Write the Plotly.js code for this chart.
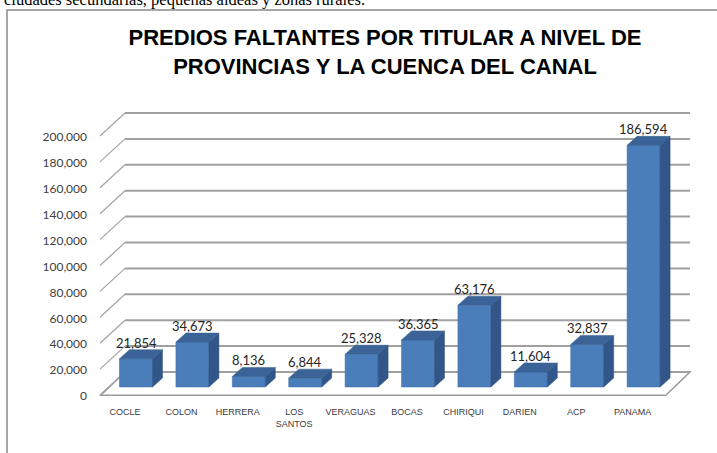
<!DOCTYPE html>
<html>
<head>
<meta charset="utf-8">
<script src="https://cdn.plot.ly/plotly-3.0.1.min.js"></script>
<style>
  html, body { margin: 0; padding: 0; background: #fff; }
  #chart { width: 717px; height: 453px; }
</style>
</head>
<body>
<div id="chart"></div>
<script>
// ---- data ----
const categories = ["COCLE", "COLON", "HERRERA", "LOS<br>SANTOS", "VERAGUAS", "BOCAS", "CHIRIQUI", "DARIEN", "ACP", "PANAMA"];
const values = [21854, 34673, 8136, 6844, 25328, 36365, 63176, 11604, 32837, 186594];
const valueLabels = ["21,854", "34,673", "8,136", "6,844", "25,328", "36,365", "63,176", "11,604", "32,837", "186,594"];
const yTicks = [0, 20000, 40000, 60000, 80000, 100000, 120000, 140000, 160000, 180000, 200000];
const titleText = "PREDIOS FALTANTES POR TITULAR A NIVEL DE<br>PROVINCIAS Y LA CUENCA DEL CANAL";
const topText = "ciudades secundarias, pequeñas aldeas y zonas rurales.";

// ---- geometry (layout) ----
const W = 717, H = 453;
const M = {l: 100, r: 27, t: 100, b: 57};
const plotW = W - M.l - M.r;   // 590
const plotH = H - M.t - M.b;   // 296
const pxPerUnitY = 259 / 200000;
const yLow = -24 / pxPerUnitY;
const yHigh = yLow + plotH / pxPerUnitY;
const y2Low = -9 / pxPerUnitY;
const y2High = y2Low + plotH / pxPerUnitY;
const pxPerCat = 56.4;
const xLow = -36 / pxPerCat;
const xHigh = xLow + plotW / pxPerCat;
const barW = 33 / pxPerCat;
const depthX = 10 / pxPerCat;
const depthY = 9 / pxPerUnitY;
const wallX = 25 / plotW;

const idx = categories.map((_, i) => i);

// side and top faces of the bars, computed from the data
const sideX = [], sideY = [], topX = [], topY = [];
idx.forEach(i => {
  const v = values[i];
  const r = i + barW / 2, l = i - barW / 2;
  sideX.push(r, r + depthX, r + depthX, r, r, null);
  sideY.push(0, depthY, v + depthY, v, 0, null);
  topX.push(l, r, r + depthX, l + depthX, l, null);
  topY.push(v, v, v + depthY, v + depthY, v, null);
});

const traces = [
  {
    type: "bar", x: idx, y: values, width: barW, xaxis: "x", yaxis: "y2",
    marker: {color: "#4a7ebb", line: {color: "#3f6fa8", width: 0.5}},
    hoverinfo: "skip"
  },
  {
    type: "scatter", mode: "lines", x: sideX, y: sideY, xaxis: "x", yaxis: "y2",
    fill: "toself", fillcolor: "#32568a", line: {color: "#2e5081", width: 0.5},
    hoverinfo: "skip"
  },
  {
    type: "scatter", mode: "lines", x: topX, y: topY, xaxis: "x", yaxis: "y2",
    fill: "toself", fillcolor: "#3b6397", line: {color: "#37608f", width: 0.5},
    hoverinfo: "skip"
  }
];

const shapes = [];
// floor
shapes.push({
  type: "path", xref: "paper", yref: "y", layer: "below",
  path: `M 0,${yLow} L ${(665 - M.l) / plotW},${yLow} L 1,0 L ${wallX},0 Z`,
  fillcolor: "#ffffff", line: {color: "#9a9a9a", width: 1.5}
});
shapes.push({
  type: "line", xref: "paper", yref: "y", layer: "below",
  x0: 0, x1: (665 - M.l) / plotW, y0: yLow, y1: yLow,
  line: {color: "#9a9a9a", width: 3}
});
// gridlines on back wall + diagonals on side wall
yTicks.forEach(t => {
  shapes.push({
    type: "line", xref: "paper", yref: "y", layer: "below",
    x0: wallX, x1: 1, y0: t, y1: t,
    line: {color: "#a0a0a0", width: 2}
  });
  shapes.push({
    type: "line", xref: "paper", yref: "y", layer: "below",
    ysizemode: "pixel", yanchor: t,
    x0: 0, x1: wallX, y0: -23, y1: 0,
    line: {color: "#a3a3a3", width: 1.2}
  });
});
// outer frame
shapes.push({
  type: "rect", xref: "paper", yref: "paper", layer: "above",
  x0: (7 - M.l) / plotW, x1: (730 - M.l) / plotW,
  y0: (M.t + plotH - 470) / plotH, y1: (M.t + plotH - 10) / plotH,
  fillcolor: "rgba(0,0,0,0)", line: {color: "#8a8a8a", width: 1.5}
});

const annotations = idx.map(i => ({
  x: i, y: values[i] + depthY, xref: "x", yref: "y2",
  text: valueLabels[i], showarrow: false, yanchor: "bottom", yshift: -3,
  font: {family: "Lato, 'Liberation Sans', sans-serif", size: 13, color: "#262626"}
}));
annotations.push({
  xref: "paper", yref: "paper", x: (2 - M.l) / plotW, y: (M.t + plotH + 0) / plotH,
  xanchor: "left", yanchor: "middle", showarrow: false, text: topText,
  font: {family: "'Liberation Serif', 'Times New Roman', serif", size: 16.5, color: "#000"}
});

const layout = {
  width: W, height: H,
  margin: M,
  paper_bgcolor: "#ffffff", plot_bgcolor: "rgba(0,0,0,0)",
  showlegend: false,
  title: {
    text: titleText, x: 385 / W, xanchor: "center", y: 1 - 45 / H, yanchor: "middle",
    font: {family: "'Liberation Sans', Arial, sans-serif", size: 22, color: "#000", weight: "bold"}
  },
  xaxis: {
    range: [xLow, xHigh], tickvals: idx, ticktext: categories,
    showgrid: false, zeroline: false, showline: false, ticks: "",
    ticklabelshift: -11, ticklabelstandoff: 9,
    tickfont: {family: "'Liberation Sans', sans-serif", size: 9, color: "#3a3a3a"},
    fixedrange: true
  },
  yaxis: {
    range: [yLow, yHigh], tickvals: yTicks, tickformat: ",",
    showgrid: false, zeroline: false, showline: false, ticks: "",
    ticklabelshift: 24, ticklabelstandoff: 12,
    tickfont: {family: "Lato, 'Liberation Sans', sans-serif", size: 12, color: "#404040"},
    fixedrange: true
  },
  yaxis2: {
    range: [y2Low, y2High], overlaying: "y", visible: false, fixedrange: true
  },
  shapes: shapes,
  annotations: annotations,
  bargap: 0
};

Plotly.newPlot("chart", traces, layout, {displayModeBar: false, staticPlot: true});
</script>
</body>
</html>
